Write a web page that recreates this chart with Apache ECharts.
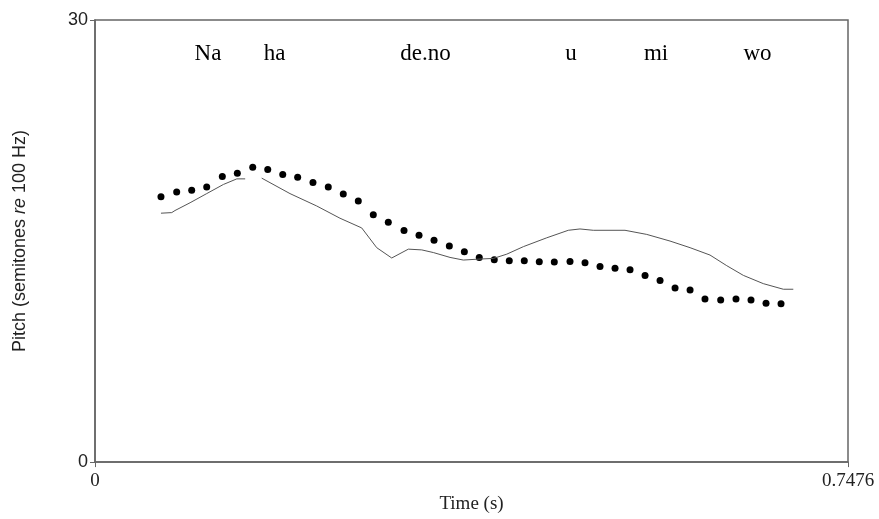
<!DOCTYPE html>
<html>
<head>
<meta charset="utf-8">
<script src="https://cdn.jsdelivr.net/npm/echarts@6/dist/echarts.min.js"></script>
<style>
html,body{margin:0;padding:0;background:#fff;overflow:hidden;}
#chart{width:879px;height:519px;}
</style>
</head>
<body>
<div id="chart"></div>
<script>
// Dotted contour (time s, semitones)
const dotTimes = [0.0655,0.0811,0.0960,0.1109,0.1264,0.1413,0.1566,0.1715,0.1864,0.2012,0.2164,0.2316,0.2465,0.2614,0.2763,0.2912,0.3068,0.3217,0.3366,0.3518,0.3667,0.3815,0.3964,0.4113,0.4262,0.4411,0.4560,0.4716,0.4865,0.5014,0.5163,0.5312,0.5461,0.5610,0.5759,0.5908,0.6056,0.6212,0.6364,0.6513,0.6662,0.6811];
const dotValues = [18.0,18.33,18.45,18.67,19.38,19.6,20.0,19.85,19.51,19.33,18.98,18.67,18.2,17.71,16.78,16.27,15.71,15.4,15.05,14.67,14.27,13.89,13.73,13.67,13.67,13.6,13.58,13.62,13.53,13.27,13.15,13.05,12.67,12.33,11.82,11.67,11.07,11.0,11.07,11.0,10.78,10.75];

// Solid contour (null = gap)
const lineTimes = [0.0655,0.0762,0.0794,0.0944,0.1109,0.1275,0.1408,0.1491,0.1573,0.1655,0.1936,0.2201,0.2432,0.2648,0.2797,0.2946,0.3111,0.3244,0.3359,0.3525,0.3657,0.3823,0.3955,0.4088,0.4253,0.4485,0.4699,0.4815,0.4947,0.5262,0.5478,0.5709,0.5908,0.6106,0.6272,0.6437,0.6635,0.6834,0.6933];
const lineValues = [16.89,16.93,17.07,17.6,18.22,18.84,19.22,19.22,null,19.27,18.22,17.38,16.55,15.89,14.55,13.85,14.45,14.4,14.22,13.89,13.71,13.78,13.82,14.11,14.62,15.22,15.73,15.82,15.73,15.73,15.45,15.0,14.55,14.05,13.33,12.67,12.11,11.73,11.73];

// Syllable labels
const syllables = ['Na','ha','de.no','u','mi','wo'];
const syllableTimes = [0.1122,0.1782,0.3282,0.4726,0.5570,0.6578];
const syllableLevel = 27.67;

const xTicks = [0, 0.7476];
const yTicks = [0, 30];

const chart = echarts.init(document.getElementById('chart'));
const axisColor = '#666';
chart.setOption({
  animation: false,
  backgroundColor: '#fff',
  grid: {left: 95, right: 31, top: 20, bottom: 49, show: true, borderColor: axisColor, borderWidth: 1.5},
  xAxis: {
    type: 'value', min: xTicks[0], max: xTicks[1], interval: xTicks[1] - xTicks[0],
    splitLine: {show: false},
    axisLine: {lineStyle: {color: axisColor, width: 1.5}},
    axisTick: {length: 5, lineStyle: {color: axisColor}},
    axisLabel: {color: '#222', fontFamily: 'Liberation Serif', fontSize: 19, margin: 9,
      formatter: v => (Math.abs(v - xTicks[1]) < 1e-9 ? '0.7476' : '0')},
    name: 'Time (s)', nameLocation: 'middle', nameGap: 30,
    nameTextStyle: {color: '#222', fontFamily: 'Liberation Serif', fontSize: 19}
  },
  yAxis: {
    type: 'value', min: yTicks[0], max: yTicks[1], interval: yTicks[1] - yTicks[0],
    splitLine: {show: false},
    axisLine: {lineStyle: {color: axisColor, width: 1.5}},
    axisTick: {length: 5, lineStyle: {color: axisColor}},
    axisLabel: {color: '#222', fontFamily: 'Liberation Sans', fontSize: 18, margin: 7},
    name: '{a|Pitch (semitones }{b|re}{a| 100 Hz)}', nameLocation: 'middle', nameGap: 66,
    nameTextStyle: {rich: {
      a: {color: '#222', fontFamily: 'Liberation Sans', fontSize: 18},
      b: {color: '#222', fontFamily: 'Liberation Sans', fontSize: 18, fontStyle: 'italic'}
    }}
  },
  series: [
    {
      type: 'line', showSymbol: false, connectNulls: false,
      data: lineTimes.map((t, i) => [t, lineValues[i]]),
      lineStyle: {color: '#555', width: 1}
    },
    {
      type: 'scatter', symbol: 'circle', symbolSize: 7,
      data: dotTimes.map((t, i) => [t, dotValues[i]]),
      itemStyle: {color: '#000', opacity: 1}
    },
    {
      type: 'scatter', symbolSize: 0, silent: true,
      data: syllables.map((s, i) => ({value: [syllableTimes[i], syllableLevel], name: s})),
      itemStyle: {opacity: 1},
      label: {show: true, position: 'inside', formatter: p => p.name, color: '#000',
        fontFamily: 'Liberation Serif', fontSize: 23}
    }
  ]
});
</script>
</body>
</html>
